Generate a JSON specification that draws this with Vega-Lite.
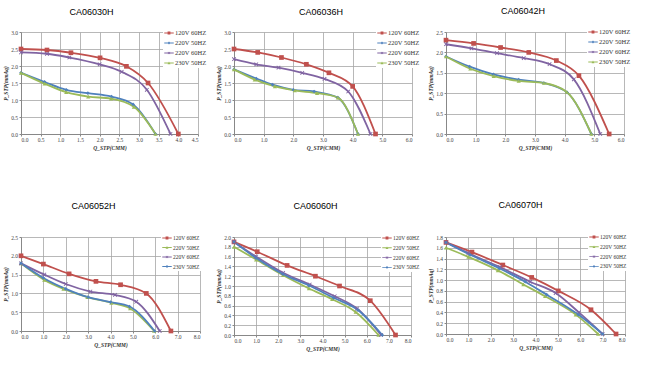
{
"$schema":"https://vega.github.io/schema/vega-lite/v6.json",
"padding":{"left":3,"top":7,"right":0,"bottom":0},
"background":"white",
"data":{"values":[
{"model":"CA06030H","series":"120V 60HZ","q":0,"p":2.5},{"model":"CA06030H","series":"120V 60HZ","q":0.66,"p":2.47},{"model":"CA06030H","series":"120V 60HZ","q":1.27,"p":2.39},{"model":"CA06030H","series":"120V 60HZ","q":2.01,"p":2.24},{"model":"CA06030H","series":"120V 60HZ","q":2.68,"p":1.99},{"model":"CA06030H","series":"120V 60HZ","q":3.23,"p":1.5},{"model":"CA06030H","series":"120V 60HZ","q":4.0,"p":0},
{"model":"CA06030H","series":"220V 50HZ","q":0,"p":1.8},{"model":"CA06030H","series":"220V 50HZ","q":0.6,"p":1.53},{"model":"CA06030H","series":"220V 50HZ","q":1.15,"p":1.3},{"model":"CA06030H","series":"220V 50HZ","q":1.7,"p":1.2},{"model":"CA06030H","series":"220V 50HZ","q":2.3,"p":1.1},{"model":"CA06030H","series":"220V 50HZ","q":2.85,"p":0.87},{"model":"CA06030H","series":"220V 50HZ","q":3.42,"p":0},
{"model":"CA06030H","series":"220V 60HZ","q":0,"p":2.4},{"model":"CA06030H","series":"220V 60HZ","q":0.66,"p":2.36},{"model":"CA06030H","series":"220V 60HZ","q":1.23,"p":2.25},{"model":"CA06030H","series":"220V 60HZ","q":2.0,"p":2.05},{"model":"CA06030H","series":"220V 60HZ","q":2.56,"p":1.83},{"model":"CA06030H","series":"220V 60HZ","q":3.2,"p":1.3},{"model":"CA06030H","series":"220V 60HZ","q":3.8,"p":0},
{"model":"CA06030H","series":"230V 50HZ","q":0,"p":1.8},{"model":"CA06030H","series":"230V 50HZ","q":0.6,"p":1.48},{"model":"CA06030H","series":"230V 50HZ","q":1.15,"p":1.23},{"model":"CA06030H","series":"230V 50HZ","q":1.71,"p":1.1},{"model":"CA06030H","series":"230V 50HZ","q":2.29,"p":1.04},{"model":"CA06030H","series":"230V 50HZ","q":2.87,"p":0.8},{"model":"CA06030H","series":"230V 50HZ","q":3.42,"p":0},
{"model":"CA06036H","series":"120V 60HZ","q":0,"p":2.5},{"model":"CA06036H","series":"120V 60HZ","q":0.8,"p":2.4},{"model":"CA06036H","series":"120V 60HZ","q":1.6,"p":2.25},{"model":"CA06036H","series":"120V 60HZ","q":2.44,"p":2.05},{"model":"CA06036H","series":"120V 60HZ","q":3.2,"p":1.8},{"model":"CA06036H","series":"120V 60HZ","q":4.0,"p":1.4},{"model":"CA06036H","series":"120V 60HZ","q":4.77,"p":0},
{"model":"CA06036H","series":"220V 50HZ","q":0,"p":1.9},{"model":"CA06036H","series":"220V 50HZ","q":0.75,"p":1.63},{"model":"CA06036H","series":"220V 50HZ","q":1.3,"p":1.45},{"model":"CA06036H","series":"220V 50HZ","q":2.0,"p":1.3},{"model":"CA06036H","series":"220V 50HZ","q":2.7,"p":1.25},{"model":"CA06036H","series":"220V 50HZ","q":3.5,"p":1.07},{"model":"CA06036H","series":"220V 50HZ","q":4.18,"p":0},
{"model":"CA06036H","series":"220V 60HZ","q":0,"p":2.2},{"model":"CA06036H","series":"220V 60HZ","q":0.75,"p":2.05},{"model":"CA06036H","series":"220V 60HZ","q":1.5,"p":1.95},{"model":"CA06036H","series":"220V 60HZ","q":2.3,"p":1.8},{"model":"CA06036H","series":"220V 60HZ","q":3.05,"p":1.62},{"model":"CA06036H","series":"220V 60HZ","q":3.85,"p":1.25},{"model":"CA06036H","series":"220V 60HZ","q":4.6,"p":0},
{"model":"CA06036H","series":"230V 50HZ","q":0,"p":1.9},{"model":"CA06036H","series":"230V 50HZ","q":0.7,"p":1.6},{"model":"CA06036H","series":"230V 50HZ","q":1.38,"p":1.4},{"model":"CA06036H","series":"230V 50HZ","q":2.05,"p":1.28},{"model":"CA06036H","series":"230V 50HZ","q":2.8,"p":1.2},{"model":"CA06036H","series":"230V 50HZ","q":3.5,"p":1.07},{"model":"CA06036H","series":"230V 50HZ","q":4.18,"p":0},
{"model":"CA06042H","series":"120V 60HZ","q":0,"p":2.3},{"model":"CA06042H","series":"120V 60HZ","q":0.93,"p":2.22},{"model":"CA06042H","series":"120V 60HZ","q":1.84,"p":2.12},{"model":"CA06042H","series":"120V 60HZ","q":2.79,"p":2.0},{"model":"CA06042H","series":"120V 60HZ","q":3.72,"p":1.8},{"model":"CA06042H","series":"120V 60HZ","q":4.48,"p":1.43},{"model":"CA06042H","series":"120V 60HZ","q":5.5,"p":0},
{"model":"CA06042H","series":"220V 50HZ","q":0,"p":1.9},{"model":"CA06042H","series":"220V 50HZ","q":0.8,"p":1.65},{"model":"CA06042H","series":"220V 50HZ","q":1.6,"p":1.46},{"model":"CA06042H","series":"220V 50HZ","q":2.45,"p":1.33},{"model":"CA06042H","series":"220V 50HZ","q":3.3,"p":1.25},{"model":"CA06042H","series":"220V 50HZ","q":4.08,"p":1.02},{"model":"CA06042H","series":"220V 50HZ","q":4.9,"p":0},
{"model":"CA06042H","series":"220V 60HZ","q":0,"p":2.2},{"model":"CA06042H","series":"220V 60HZ","q":0.86,"p":2.1},{"model":"CA06042H","series":"220V 60HZ","q":1.72,"p":1.98},{"model":"CA06042H","series":"220V 60HZ","q":2.62,"p":1.86},{"model":"CA06042H","series":"220V 60HZ","q":3.49,"p":1.71},{"model":"CA06042H","series":"220V 60HZ","q":4.31,"p":1.34},{"model":"CA06042H","series":"220V 60HZ","q":5.2,"p":0},
{"model":"CA06042H","series":"230V 50HZ","q":0,"p":1.9},{"model":"CA06042H","series":"230V 50HZ","q":0.82,"p":1.6},{"model":"CA06042H","series":"230V 50HZ","q":1.61,"p":1.42},{"model":"CA06042H","series":"230V 50HZ","q":2.45,"p":1.3},{"model":"CA06042H","series":"230V 50HZ","q":3.3,"p":1.25},{"model":"CA06042H","series":"230V 50HZ","q":4.07,"p":1.03},{"model":"CA06042H","series":"230V 50HZ","q":4.9,"p":0},
{"model":"CA06052H","series":"120V 60HZ","q":0,"p":2.0},{"model":"CA06052H","series":"120V 60HZ","q":1.0,"p":1.78},{"model":"CA06052H","series":"120V 60HZ","q":2.15,"p":1.52},{"model":"CA06052H","series":"120V 60HZ","q":3.35,"p":1.32},{"model":"CA06052H","series":"120V 60HZ","q":4.45,"p":1.23},{"model":"CA06052H","series":"120V 60HZ","q":5.6,"p":1.0},{"model":"CA06052H","series":"120V 60HZ","q":6.7,"p":0},
{"model":"CA06052H","series":"220V 50HZ","q":0,"p":1.8},{"model":"CA06052H","series":"220V 50HZ","q":1.04,"p":1.36},{"model":"CA06052H","series":"220V 50HZ","q":1.9,"p":1.12},{"model":"CA06052H","series":"220V 50HZ","q":2.97,"p":0.9},{"model":"CA06052H","series":"220V 50HZ","q":4.04,"p":0.75},{"model":"CA06052H","series":"220V 50HZ","q":4.88,"p":0.6},{"model":"CA06052H","series":"220V 50HZ","q":5.95,"p":0},
{"model":"CA06052H","series":"220V 60HZ","q":0,"p":1.8},{"model":"CA06052H","series":"220V 60HZ","q":1.04,"p":1.5},{"model":"CA06052H","series":"220V 60HZ","q":2.0,"p":1.25},{"model":"CA06052H","series":"220V 60HZ","q":3.1,"p":1.05},{"model":"CA06052H","series":"220V 60HZ","q":4.2,"p":0.96},{"model":"CA06052H","series":"220V 60HZ","q":5.15,"p":0.78},{"model":"CA06052H","series":"220V 60HZ","q":6.2,"p":0},
{"model":"CA06052H","series":"230V 50HZ","q":0,"p":1.8},{"model":"CA06052H","series":"230V 50HZ","q":1.0,"p":1.41},{"model":"CA06052H","series":"230V 50HZ","q":2.0,"p":1.12},{"model":"CA06052H","series":"230V 50HZ","q":3.0,"p":0.9},{"model":"CA06052H","series":"230V 50HZ","q":4.0,"p":0.77},{"model":"CA06052H","series":"230V 50HZ","q":4.85,"p":0.65},{"model":"CA06052H","series":"230V 50HZ","q":5.97,"p":0},
{"model":"CA06060H","series":"120V 60HZ","q":0,"p":1.9},{"model":"CA06060H","series":"120V 60HZ","q":1.05,"p":1.7},{"model":"CA06060H","series":"120V 60HZ","q":2.4,"p":1.42},{"model":"CA06060H","series":"120V 60HZ","q":3.68,"p":1.2},{"model":"CA06060H","series":"120V 60HZ","q":4.77,"p":1.0},{"model":"CA06060H","series":"120V 60HZ","q":6.16,"p":0.7},{"model":"CA06060H","series":"120V 60HZ","q":7.3,"p":0},
{"model":"CA06060H","series":"220V 50HZ","q":0,"p":1.8},{"model":"CA06060H","series":"220V 50HZ","q":1.0,"p":1.54},{"model":"CA06060H","series":"220V 50HZ","q":2.22,"p":1.22},{"model":"CA06060H","series":"220V 50HZ","q":3.39,"p":0.95},{"model":"CA06060H","series":"220V 50HZ","q":4.44,"p":0.73},{"model":"CA06060H","series":"220V 50HZ","q":5.5,"p":0.47},{"model":"CA06060H","series":"220V 50HZ","q":6.53,"p":0},
{"model":"CA06060H","series":"220V 60HZ","q":0,"p":1.9},{"model":"CA06060H","series":"220V 60HZ","q":1.0,"p":1.6},{"model":"CA06060H","series":"220V 60HZ","q":2.22,"p":1.27},{"model":"CA06060H","series":"220V 60HZ","q":3.42,"p":1.03},{"model":"CA06060H","series":"220V 60HZ","q":4.55,"p":0.79},{"model":"CA06060H","series":"220V 60HZ","q":5.56,"p":0.54},{"model":"CA06060H","series":"220V 60HZ","q":6.65,"p":0},
{"model":"CA06060H","series":"230V 50HZ","q":0,"p":1.9},{"model":"CA06060H","series":"230V 50HZ","q":1.0,"p":1.57},{"model":"CA06060H","series":"230V 50HZ","q":2.22,"p":1.24},{"model":"CA06060H","series":"230V 50HZ","q":3.39,"p":1.01},{"model":"CA06060H","series":"230V 50HZ","q":4.5,"p":0.76},{"model":"CA06060H","series":"230V 50HZ","q":5.6,"p":0.51},{"model":"CA06060H","series":"230V 50HZ","q":6.7,"p":0},
{"model":"CA06070H","series":"120V 60HZ","q":0,"p":1.7},{"model":"CA06070H","series":"120V 60HZ","q":1.16,"p":1.52},{"model":"CA06070H","series":"120V 60HZ","q":2.54,"p":1.28},{"model":"CA06070H","series":"120V 60HZ","q":3.83,"p":1.05},{"model":"CA06070H","series":"120V 60HZ","q":5.02,"p":0.8},{"model":"CA06070H","series":"120V 60HZ","q":6.48,"p":0.45},{"model":"CA06070H","series":"120V 60HZ","q":7.6,"p":0},
{"model":"CA06070H","series":"220V 50HZ","q":0,"p":1.6},{"model":"CA06070H","series":"220V 50HZ","q":1.0,"p":1.43},{"model":"CA06070H","series":"220V 50HZ","q":2.32,"p":1.18},{"model":"CA06070H","series":"220V 50HZ","q":3.46,"p":0.92},{"model":"CA06070H","series":"220V 50HZ","q":4.43,"p":0.7},{"model":"CA06070H","series":"220V 50HZ","q":5.8,"p":0.36},{"model":"CA06070H","series":"220V 50HZ","q":6.8,"p":0},
{"model":"CA06070H","series":"220V 60HZ","q":0,"p":1.7},{"model":"CA06070H","series":"220V 60HZ","q":1.0,"p":1.5},{"model":"CA06070H","series":"220V 60HZ","q":2.42,"p":1.24},{"model":"CA06070H","series":"220V 60HZ","q":3.76,"p":0.97},{"model":"CA06070H","series":"220V 60HZ","q":4.9,"p":0.76},{"model":"CA06070H","series":"220V 60HZ","q":5.94,"p":0.4},{"model":"CA06070H","series":"220V 60HZ","q":7.0,"p":0},
{"model":"CA06070H","series":"230V 50HZ","q":0,"p":1.7},{"model":"CA06070H","series":"230V 50HZ","q":1.08,"p":1.47},{"model":"CA06070H","series":"230V 50HZ","q":2.38,"p":1.22},{"model":"CA06070H","series":"230V 50HZ","q":3.54,"p":0.97},{"model":"CA06070H","series":"230V 50HZ","q":4.5,"p":0.73},{"model":"CA06070H","series":"230V 50HZ","q":5.91,"p":0.36},{"model":"CA06070H","series":"230V 50HZ","q":7.0,"p":0}
]},
"columns":3,
"bounds":"flush",
"spacing":{"row":103,"column":34},
"resolve":{"scale":{"x":"independent","y":"independent","color":"independent","shape":"independent"},"legend":{"color":"independent","shape":"independent"}},
"concat":[
{"title":{"text":"CA06030H","dx":-18,"offset":10},"width":177,"height":102,
 "transform":[{"filter":"datum.model==='CA06030H'"}],
 "encoding":{
  "x":{"field":"q","type":"quantitative","title":"Q_STP(CMM)","scale":{"domain":[0,4.5],"nice":false},"axis":{"values":[0,0.5,1,1.5,2,2.5,3,3.5,4,4.5],"format":".1f"}},
  "y":{"field":"p","type":"quantitative","title":"P_STP(mmAq)","scale":{"domain":[0,3],"nice":false},"axis":{"values":[0,0.5,1,1.5,2,2.5,3],"format":".1f"}},
  "color":{"field":"series","type":"nominal","scale":{"domain":["120V 60HZ","220V 50HZ","220V 60HZ","230V 50HZ"],"range":["#C0504D","#4F81BD","#8064A2","#9BBB59"]},"legend":{"legendX":142,"legendY":-5}}
 },
 "layer":[
  {"mark":{"type":"line","interpolate":"monotone","strokeWidth":1.8}},
  {"transform":[{"filter":"datum.series==='120V 60HZ'"}],"mark":{"type":"point","filled":true,"opacity":1,"size":22,"shape":"square"}},
  {"transform":[{"filter":"datum.series==='220V 50HZ'"}],"mark":{"type":"point","filled":true,"opacity":1,"size":14,"shape":"diamond"}},
  {"transform":[{"filter":"datum.series==='220V 60HZ'"}],"mark":{"type":"point","filled":true,"opacity":1,"size":18,"shape":"M-1,-0.7L-0.7,-1L0,-0.3L0.7,-1L1,-0.7L0.3,0L1,0.7L0.7,1L0,0.3L-0.7,1L-1,0.7L-0.3,0Z"}},
  {"transform":[{"filter":"datum.series==='230V 50HZ'"}],"mark":{"type":"point","filled":true,"opacity":1,"size":18,"shape":"triangle-up"}},
  {"mark":{"type":"point","filled":true,"opacity":0},"encoding":{"shape":{"field":"series","type":"nominal","scale":{"domain":["120V 60HZ","220V 50HZ","220V 60HZ","230V 50HZ"],"range":["M-1,-0.09L1,-0.09L1,0.09L-1,0.09ZM-0.3,-0.3L0.3,-0.3L0.3,0.3L-0.3,0.3Z","M-1,-0.09L1,-0.09L1,0.09L-1,0.09ZM0,-0.3L0.3,0L0,0.3L-0.3,0Z","M-1,-0.09L1,-0.09L1,0.09L-1,0.09ZM-0.28,-0.2L-0.2,-0.28L0,-0.08L0.2,-0.28L0.28,-0.2L0.08,0L0.28,0.2L0.2,0.28L0,0.08L-0.2,0.28L-0.28,0.2L-0.08,0Z","M-1,-0.09L1,-0.09L1,0.09L-1,0.09ZM0,-0.3L0.3,0.25L-0.3,0.25Z"]},"legend":{"legendX":142,"legendY":-5}}}}
 ]
},
{"title":{"text":"CA06036H","dx":-2,"offset":10},"width":178,"height":102,
 "transform":[{"filter":"datum.model==='CA06036H'"}],
 "encoding":{
  "x":{"field":"q","type":"quantitative","title":"Q_STP(CMM)","scale":{"domain":[0,6],"nice":false},"axis":{"values":[0,1,2,3,4,5,6],"format":".1f"}},
  "y":{"field":"p","type":"quantitative","title":"P_STP(mmAq)","scale":{"domain":[0,3],"nice":false},"axis":{"values":[0,0.5,1,1.5,2,2.5,3],"format":".1f"}},
  "color":{"field":"series","type":"nominal","scale":{"domain":["120V 60HZ","220V 50HZ","220V 60HZ","230V 50HZ"],"range":["#C0504D","#4F81BD","#8064A2","#9BBB59"]},"legend":{"legendX":142,"legendY":-5}}
 },
 "layer":[
  {"mark":{"type":"line","interpolate":"monotone","strokeWidth":1.8}},
  {"transform":[{"filter":"datum.series==='120V 60HZ'"}],"mark":{"type":"point","filled":true,"opacity":1,"size":22,"shape":"square"}},
  {"transform":[{"filter":"datum.series==='220V 50HZ'"}],"mark":{"type":"point","filled":true,"opacity":1,"size":14,"shape":"diamond"}},
  {"transform":[{"filter":"datum.series==='220V 60HZ'"}],"mark":{"type":"point","filled":true,"opacity":1,"size":18,"shape":"M-1,-0.7L-0.7,-1L0,-0.3L0.7,-1L1,-0.7L0.3,0L1,0.7L0.7,1L0,0.3L-0.7,1L-1,0.7L-0.3,0Z"}},
  {"transform":[{"filter":"datum.series==='230V 50HZ'"}],"mark":{"type":"point","filled":true,"opacity":1,"size":18,"shape":"triangle-up"}},
  {"mark":{"type":"point","filled":true,"opacity":0},"encoding":{"shape":{"field":"series","type":"nominal","scale":{"domain":["120V 60HZ","220V 50HZ","220V 60HZ","230V 50HZ"],"range":["M-1,-0.09L1,-0.09L1,0.09L-1,0.09ZM-0.3,-0.3L0.3,-0.3L0.3,0.3L-0.3,0.3Z","M-1,-0.09L1,-0.09L1,0.09L-1,0.09ZM0,-0.3L0.3,0L0,0.3L-0.3,0Z","M-1,-0.09L1,-0.09L1,0.09L-1,0.09ZM-0.28,-0.2L-0.2,-0.28L0,-0.08L0.2,-0.28L0.28,-0.2L0.08,0L0.28,0.2L0.2,0.28L0,0.08L-0.2,0.28L-0.28,0.2L-0.08,0Z","M-1,-0.09L1,-0.09L1,0.09L-1,0.09ZM0,-0.3L0.3,0.25L-0.3,0.25Z"]},"legend":{"legendX":142,"legendY":-5}}}}
 ]
},
{"title":{"text":"CA06042H","dx":-12,"offset":10},"width":178,"height":102,
 "transform":[{"filter":"datum.model==='CA06042H'"}],
 "encoding":{
  "x":{"field":"q","type":"quantitative","title":"Q_STP(CMM)","scale":{"domain":[0,6],"nice":false},"axis":{"values":[0,1,2,3,4,5,6],"format":".1f"}},
  "y":{"field":"p","type":"quantitative","title":"P_STP(mmAq)","scale":{"domain":[0,2.5],"nice":false},"axis":{"values":[0,0.5,1,1.5,2,2.5],"format":".1f"}},
  "color":{"field":"series","type":"nominal","scale":{"domain":["120V 60HZ","220V 50HZ","220V 60HZ","230V 50HZ"],"range":["#C0504D","#4F81BD","#8064A2","#9BBB59"]},"legend":{"legendX":141,"legendY":-6}}
 },
 "layer":[
  {"mark":{"type":"line","interpolate":"monotone","strokeWidth":1.8}},
  {"transform":[{"filter":"datum.series==='120V 60HZ'"}],"mark":{"type":"point","filled":true,"opacity":1,"size":22,"shape":"square"}},
  {"transform":[{"filter":"datum.series==='220V 50HZ'"}],"mark":{"type":"point","filled":true,"opacity":1,"size":14,"shape":"diamond"}},
  {"transform":[{"filter":"datum.series==='220V 60HZ'"}],"mark":{"type":"point","filled":true,"opacity":1,"size":18,"shape":"M-1,-0.7L-0.7,-1L0,-0.3L0.7,-1L1,-0.7L0.3,0L1,0.7L0.7,1L0,0.3L-0.7,1L-1,0.7L-0.3,0Z"}},
  {"transform":[{"filter":"datum.series==='230V 50HZ'"}],"mark":{"type":"point","filled":true,"opacity":1,"size":18,"shape":"triangle-up"}},
  {"mark":{"type":"point","filled":true,"opacity":0},"encoding":{"shape":{"field":"series","type":"nominal","scale":{"domain":["120V 60HZ","220V 50HZ","220V 60HZ","230V 50HZ"],"range":["M-1,-0.09L1,-0.09L1,0.09L-1,0.09ZM-0.3,-0.3L0.3,-0.3L0.3,0.3L-0.3,0.3Z","M-1,-0.09L1,-0.09L1,0.09L-1,0.09ZM0,-0.3L0.3,0L0,0.3L-0.3,0Z","M-1,-0.09L1,-0.09L1,0.09L-1,0.09ZM-0.28,-0.2L-0.2,-0.28L0,-0.08L0.2,-0.28L0.28,-0.2L0.08,0L0.28,0.2L0.2,0.28L0,0.08L-0.2,0.28L-0.28,0.2L-0.08,0Z","M-1,-0.09L1,-0.09L1,0.09L-1,0.09ZM0,-0.3L0.3,0.25L-0.3,0.25Z"]},"legend":{"legendX":141,"legendY":-6}}}}
 ]
},
{"title":{"text":"CA06052H","dx":-17,"offset":21},"width":179,"height":94,
 "transform":[{"filter":"datum.model==='CA06052H'"}],
 "encoding":{
  "x":{"field":"q","type":"quantitative","title":"Q_STP(CMM)","scale":{"domain":[0,8],"nice":false},"axis":{"values":[0,1,2,3,4,5,6,7,8],"format":".1f"}},
  "y":{"field":"p","type":"quantitative","title":"P_STP(mmAq)","scale":{"domain":[0,2.5],"nice":false},"axis":{"values":[0,0.5,1,1.5,2,2.5],"format":".1f"}},
  "color":{"field":"series","type":"nominal","scale":{"domain":["120V 60HZ","220V 50HZ","220V 60HZ","230V 50HZ"],"range":["#C0504D","#9BBB59","#8064A2","#4F81BD"]},"legend":{"legendX":140,"legendY":-5,"labelFontSize":5.5,"rowPadding":0.5}}
 },
 "layer":[
  {"mark":{"type":"line","interpolate":"monotone","strokeWidth":1.8}},
  {"transform":[{"filter":"datum.series==='120V 60HZ'"}],"mark":{"type":"point","filled":true,"opacity":1,"size":22,"shape":"square"}},
  {"transform":[{"filter":"datum.series==='220V 50HZ'"}],"mark":{"type":"point","filled":true,"opacity":1,"size":18,"shape":"triangle-up"}},
  {"transform":[{"filter":"datum.series==='220V 60HZ'"}],"mark":{"type":"point","filled":true,"opacity":1,"size":18,"shape":"M-1,-0.7L-0.7,-1L0,-0.3L0.7,-1L1,-0.7L0.3,0L1,0.7L0.7,1L0,0.3L-0.7,1L-1,0.7L-0.3,0Z"}},
  {"transform":[{"filter":"datum.series==='230V 50HZ'"}],"mark":{"type":"point","filled":true,"opacity":1,"size":14,"shape":"diamond"}},
  {"mark":{"type":"point","filled":true,"opacity":0},"encoding":{"shape":{"field":"series","type":"nominal","scale":{"domain":["120V 60HZ","220V 50HZ","220V 60HZ","230V 50HZ"],"range":["M-1,-0.09L1,-0.09L1,0.09L-1,0.09ZM-0.3,-0.3L0.3,-0.3L0.3,0.3L-0.3,0.3Z","M-1,-0.09L1,-0.09L1,0.09L-1,0.09ZM0,-0.3L0.3,0.25L-0.3,0.25Z","M-1,-0.09L1,-0.09L1,0.09L-1,0.09ZM-0.28,-0.2L-0.2,-0.28L0,-0.08L0.2,-0.28L0.28,-0.2L0.08,0L0.28,0.2L0.2,0.28L0,0.08L-0.2,0.28L-0.28,0.2L-0.08,0Z","M-1,-0.09L1,-0.09L1,0.09L-1,0.09ZM0,-0.3L0.3,0L0,0.3L-0.3,0Z"]},"legend":{"legendX":140,"legendY":-5,"labelFontSize":5.5,"rowPadding":0.5}}}}
 ]
},
{"title":{"text":"CA06060H","dx":-7,"offset":21},"width":177,"height":98,
 "transform":[{"filter":"datum.model==='CA06060H'"}],
 "encoding":{
  "x":{"field":"q","type":"quantitative","title":"Q_STP(CMM)","scale":{"domain":[0,8],"nice":false},"axis":{"values":[0,1,2,3,4,5,6,7,8],"format":".1f"}},
  "y":{"field":"p","type":"quantitative","title":"P_STP(mmAq)","scale":{"domain":[0,2],"nice":false},"axis":{"values":[0,0.2,0.4,0.6,0.8,1,1.2,1.4,1.6,1.8,2],"format":".1f"}},
  "color":{"field":"series","type":"nominal","scale":{"domain":["120V 60HZ","220V 50HZ","220V 60HZ","230V 50HZ"],"range":["#C0504D","#9BBB59","#8064A2","#4F81BD"]},"legend":{"legendX":147,"legendY":-5,"labelFontSize":5.5,"rowPadding":0.8}}
 },
 "layer":[
  {"mark":{"type":"line","interpolate":"monotone","strokeWidth":1.8}},
  {"transform":[{"filter":"datum.series==='120V 60HZ'"}],"mark":{"type":"point","filled":true,"opacity":1,"size":22,"shape":"square"}},
  {"transform":[{"filter":"datum.series==='220V 50HZ'"}],"mark":{"type":"point","filled":true,"opacity":1,"size":18,"shape":"triangle-up"}},
  {"transform":[{"filter":"datum.series==='220V 60HZ'"}],"mark":{"type":"point","filled":true,"opacity":1,"size":18,"shape":"M-1,-0.7L-0.7,-1L0,-0.3L0.7,-1L1,-0.7L0.3,0L1,0.7L0.7,1L0,0.3L-0.7,1L-1,0.7L-0.3,0Z"}},
  {"transform":[{"filter":"datum.series==='230V 50HZ'"}],"mark":{"type":"point","filled":true,"opacity":1,"size":14,"shape":"diamond"}},
  {"mark":{"type":"point","filled":true,"opacity":0},"encoding":{"shape":{"field":"series","type":"nominal","scale":{"domain":["120V 60HZ","220V 50HZ","220V 60HZ","230V 50HZ"],"range":["M-1,-0.09L1,-0.09L1,0.09L-1,0.09ZM-0.3,-0.3L0.3,-0.3L0.3,0.3L-0.3,0.3Z","M-1,-0.09L1,-0.09L1,0.09L-1,0.09ZM0,-0.3L0.3,0.25L-0.3,0.25Z","M-1,-0.09L1,-0.09L1,0.09L-1,0.09ZM-0.28,-0.2L-0.2,-0.28L0,-0.08L0.2,-0.28L0.28,-0.2L0.08,0L0.28,0.2L0.2,0.28L0,0.08L-0.2,0.28L-0.28,0.2L-0.08,0Z","M-1,-0.09L1,-0.09L1,0.09L-1,0.09ZM0,-0.3L0.3,0L0,0.3L-0.3,0Z"]},"legend":{"legendX":147,"legendY":-5,"labelFontSize":5.5,"rowPadding":0.8}}}}
 ]
},
{"title":{"text":"CA06070H","dx":-15,"offset":21},"width":179,"height":97,
 "transform":[{"filter":"datum.model==='CA06070H'"}],
 "encoding":{
  "x":{"field":"q","type":"quantitative","title":"Q_STP(CMM)","scale":{"domain":[0,8],"nice":false},"axis":{"values":[0,1,2,3,4,5,6,7,8],"format":".1f"}},
  "y":{"field":"p","type":"quantitative","title":"P_STP(mmAq)","scale":{"domain":[0,1.8],"nice":false},"axis":{"values":[0,0.2,0.4,0.6,0.8,1,1.2,1.4,1.6,1.8],"format":".1f"}},
  "color":{"field":"series","type":"nominal","scale":{"domain":["120V 60HZ","220V 50HZ","220V 60HZ","230V 50HZ"],"range":["#C0504D","#9BBB59","#8064A2","#4F81BD"]},"legend":{"legendX":142,"legendY":-6,"labelFontSize":5.5,"rowPadding":0.8}}
 },
 "layer":[
  {"mark":{"type":"line","interpolate":"monotone","strokeWidth":1.8}},
  {"transform":[{"filter":"datum.series==='120V 60HZ'"}],"mark":{"type":"point","filled":true,"opacity":1,"size":22,"shape":"square"}},
  {"transform":[{"filter":"datum.series==='220V 50HZ'"}],"mark":{"type":"point","filled":true,"opacity":1,"size":18,"shape":"triangle-up"}},
  {"transform":[{"filter":"datum.series==='220V 60HZ'"}],"mark":{"type":"point","filled":true,"opacity":1,"size":18,"shape":"M-1,-0.7L-0.7,-1L0,-0.3L0.7,-1L1,-0.7L0.3,0L1,0.7L0.7,1L0,0.3L-0.7,1L-1,0.7L-0.3,0Z"}},
  {"transform":[{"filter":"datum.series==='230V 50HZ'"}],"mark":{"type":"point","filled":true,"opacity":1,"size":14,"shape":"diamond"}},
  {"mark":{"type":"point","filled":true,"opacity":0},"encoding":{"shape":{"field":"series","type":"nominal","scale":{"domain":["120V 60HZ","220V 50HZ","220V 60HZ","230V 50HZ"],"range":["M-1,-0.09L1,-0.09L1,0.09L-1,0.09ZM-0.3,-0.3L0.3,-0.3L0.3,0.3L-0.3,0.3Z","M-1,-0.09L1,-0.09L1,0.09L-1,0.09ZM0,-0.3L0.3,0.25L-0.3,0.25Z","M-1,-0.09L1,-0.09L1,0.09L-1,0.09ZM-0.28,-0.2L-0.2,-0.28L0,-0.08L0.2,-0.28L0.28,-0.2L0.08,0L0.28,0.2L0.2,0.28L0,0.08L-0.2,0.28L-0.28,0.2L-0.08,0Z","M-1,-0.09L1,-0.09L1,0.09L-1,0.09ZM0,-0.3L0.3,0L0,0.3L-0.3,0Z"]},"legend":{"legendX":142,"legendY":-6,"labelFontSize":5.5,"rowPadding":0.8}}}}
 ]
}
],
"config":{
 "view":{"stroke":null},
 "axis":{"grid":true,"gridColor":"#a6a6a6","gridWidth":0.8,"domainColor":"#888888","tickColor":"#888888","tickSize":2,"labelFont":"Liberation Serif","labelFontSize":5.5,"labelColor":"#444444","labelPadding":1.5,"titleFont":"Liberation Serif","titleFontSize":5.5,"titleFontStyle":"italic","titleFontWeight":"bold","titleColor":"#333333","titlePadding":2},
 "legend":{"orient":"none","title":null,"labelFont":"Liberation Serif","labelFontSize":6.5,"labelColor":"#333333","symbolSize":90,"symbolStrokeWidth":0,"rowPadding":1,"padding":1,"fillColor":"white","labelOffset":1,"symbolOpacity":1},
 "title":{"font":"Liberation Sans","fontSize":9,"fontWeight":"normal","color":"#000000","frame":"group","offset":10}
}
}
